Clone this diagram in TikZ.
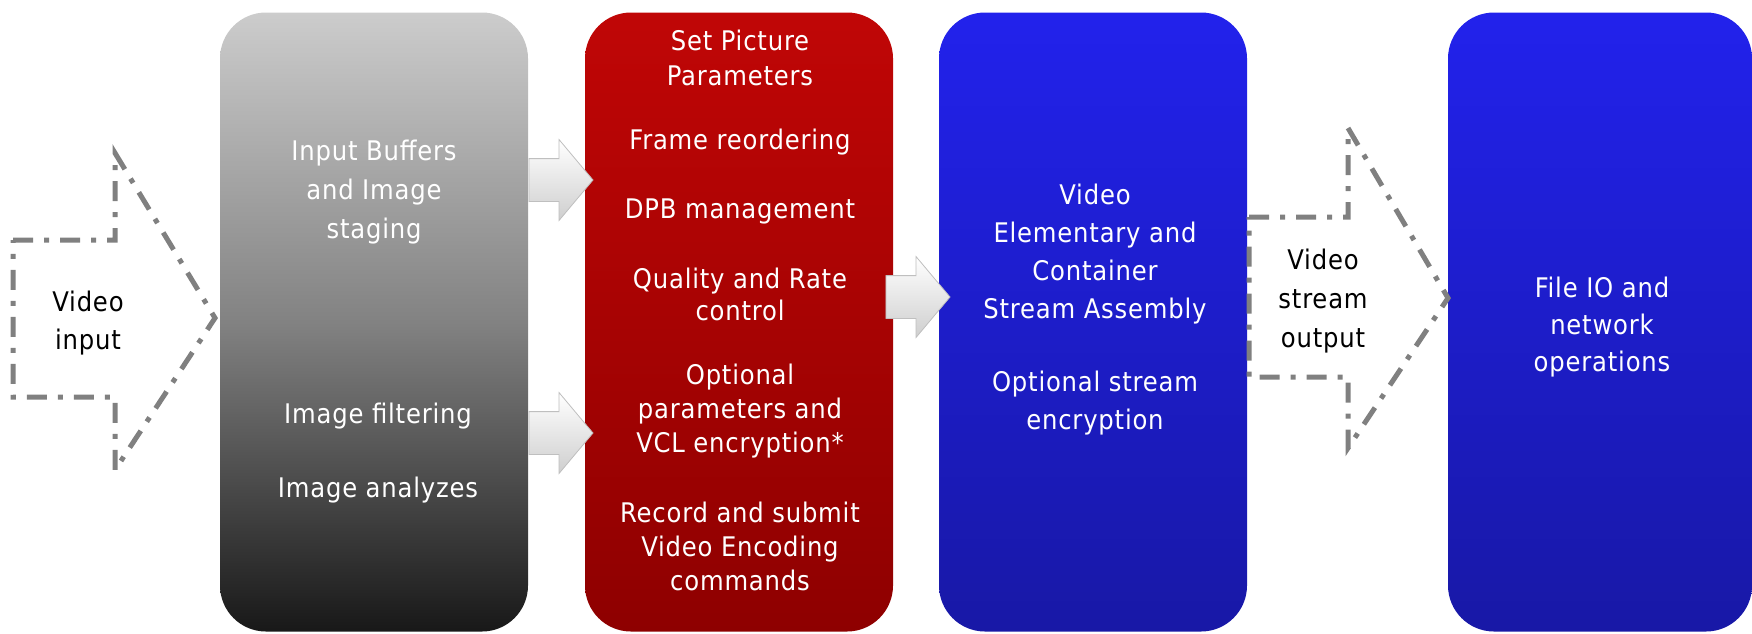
\documentclass[tikz,border=0pt]{standalone}
\usepackage{fontspec}
\setmainfont[LetterSpace=3.0]{DejaVu Sans Condensed}
\usetikzlibrary{shapes.arrows}

\definecolor{dashgray}{RGB}{128,128,128}
\definecolor{greytop}{RGB}{204,204,204}
\definecolor{greymid}{RGB}{130,130,130}
\definecolor{greybot}{RGB}{24,24,24}
\definecolor{redtop}{RGB}{192,6,6}
\definecolor{redbot}{RGB}{142,0,0}
\definecolor{bluetop}{RGB}{34,34,236}
\definecolor{bluebot}{RGB}{24,24,166}

\begin{document}
\begin{tikzpicture}[x=1pt,y=-1pt,
  stage/.style={rounded corners=46pt, minimum width=308pt, minimum height=619pt, inner sep=0pt},
  greystage/.style={stage, top color=greytop, bottom color=greybot, middle color=greymid},
  redstage/.style={stage, top color=redtop, bottom color=redbot},
  bluestage/.style={stage, top color=bluetop, bottom color=bluebot},
  lbl/.style={font=\fontsize{27}{#1}\selectfont, align=center, text=white, inner sep=0pt},
  lbl/.default=34,
  blacklbl/.style={lbl=#1, text=black},
  flowarrow/.style={single arrow, single arrow head extend=19pt, single arrow tip angle=100,
    minimum width=80pt, minimum height=64pt, inner sep=0pt,
    top color=white, bottom color=gray!38, draw=gray!50, line width=0.8pt},
  dashout/.style={draw=dashgray, line width=5pt, dash pattern=on 20pt off 11pt on 5pt off 11pt, miter limit=10}
]
\useasboundingbox (0,0) rectangle (1752,633);

% processing stages
\node[greystage] (grey) at (374,322) {};
\node[redstage]  (red)  at (739,322) {};
\node[bluestage] (blue) at (1093,322) {};
\node[bluestage, minimum width=304pt] (file) at (1600,322) {};

% stage labels
\node[lbl=39] (ib) at (374,192) {Input Buffers\\and Image\\staging};
\node[lbl] (filt) at (378,416) {Image filtering};
\node[lbl] (anal) at (378,490) {Image analyzes};

\node[lbl=35] (spp) at (740,58) {Set Picture\\Parameters};
\node[lbl] (fr)  at (740,142) {Frame reordering};
\node[lbl] (dpb) at (740,211) {DPB management};
\node[lbl=32] (qr) at (740,294) {Quality and Rate\\control};
\node[lbl=34] (opt) at (740,411) {Optional\\parameters and\\VCL encryption*};
\node[lbl=34] (rec) at (740,546) {Record and submit\\Video Encoding\\commands};

\node[lbl=38] (vec) at (1095,254) {Video\\Elementary and\\Container\\Stream Assembly};
\node[lbl=38] (ose) at (1095,403) {Optional stream\\encryption};

\node[lbl=37] (fio) at (1602,327) {File IO and\\network\\operations};

% block arrows between stages
\node[flowarrow] (a1) at (552,180) {\rule{0pt}{42pt}};
\node[flowarrow] (a2) at (552,433) {\rule{0pt}{42pt}};
\node[flowarrow] (a3) at (909,297) {\rule{0pt}{42pt}};

% dash-dotted input / output arrows
\draw[dashout] (13,240) -- (115,240) -- (115,153) -- (215,318) -- (115,470) -- (115,397) -- (13,397) -- cycle;
\node[blacklbl=38] (vin) at (88,323) {Video\\input};

\draw[dashout] (1249,217) -- (1348,217) -- (1348,128) -- (1448,298) -- (1348,448) -- (1348,377) -- (1249,377) -- cycle;
\node[blacklbl=39] (vout) at (1323,301) {Video\\stream\\output};
\end{tikzpicture}
\end{document}
